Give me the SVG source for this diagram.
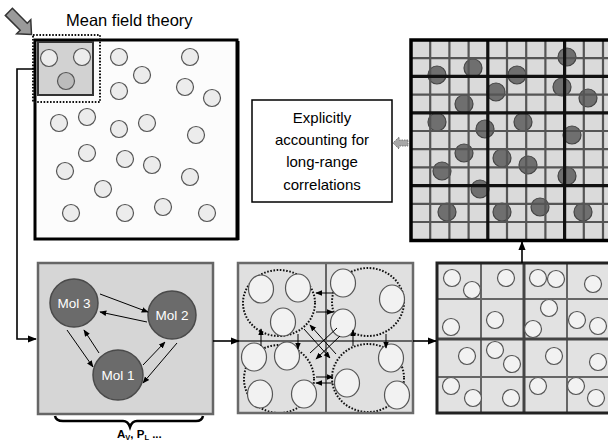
<svg xmlns="http://www.w3.org/2000/svg" width="608" height="442" viewBox="0 0 608 442">
<defs>
<style>
.lc{fill:#ececec;stroke:#555;stroke-width:1.2}
.dc{fill:#6f6f6f;stroke:#444;stroke-width:1.2}
.we{fill:#f2f2f2;stroke:#555;stroke-width:1.2}
.mol{fill:#6b6b6b;stroke:#4a4a4a;stroke-width:1.5}
.molt{font-family:"Liberation Sans",Arial,sans-serif;font-size:13.5px;fill:#fff;text-anchor:middle}
.ln{stroke:#000;stroke-width:1;fill:none}
.cn{stroke:#000;stroke-width:1.6;fill:none}
.dot{fill:none;stroke:#111;stroke-width:2;stroke-dasharray:1.6 1.6}
.g1{stroke:#555;stroke-width:2.2;fill:none}
.g2{stroke:#111;stroke-width:3.2;fill:none}
.q{stroke:#666;stroke-width:2;fill:none}
</style>
<marker id="ah" viewBox="0 0 10 10" refX="9" refY="5" markerWidth="7" markerHeight="7" orient="auto-start-reverse" markerUnits="userSpaceOnUse">
<path d="M0,1 L10,5 L0,9 z" fill="#000"/>
</marker>
<marker id="ah2" viewBox="0 0 10 10" refX="9" refY="5" markerWidth="9" markerHeight="9" orient="auto" markerUnits="userSpaceOnUse">
<path d="M0,1 L10,5 L0,9 z" fill="#000"/>
</marker>
</defs>
<rect width="608" height="442" fill="#fff"/>

<g id="title">
<polygon points="-20,-5 1,-5 1,-10 12,0 1,10 1,5 -20,5" transform="translate(23,26) rotate(45)" fill="#9a9a9a" stroke="#333" stroke-width="1.5"/>
<text x="66" y="26" font-family="Liberation Sans,Arial,sans-serif" font-size="16.5" fill="#000">Mean field theory</text>
</g>

<g id="mean-field-box">
<rect x="35" y="40" width="202" height="199" fill="#fcfcfc" stroke="#000" stroke-width="3"/>
<line x1="238.5" y1="41" x2="238.5" y2="240" stroke="#000" stroke-width="2"/>
<rect x="38" y="42" width="55" height="53" fill="#d2d2d2" stroke="#333" stroke-width="2"/>
<rect x="33" y="35" width="67" height="67" class="dot"/>
<circle cx="49" cy="58" r="8.5" class="lc"/>
<circle cx="82" cy="57" r="8.5" class="lc"/>
<circle cx="66" cy="81" r="8.5" fill="#bcbcbc" stroke="#555" stroke-width="1.2"/>
<circle cx="119" cy="57" r="8.5" class="lc"/>
<circle cx="190" cy="57" r="8.5" class="lc"/>
<circle cx="142" cy="75" r="8.5" class="lc"/>
<circle cx="119" cy="91" r="8.5" class="lc"/>
<circle cx="185" cy="87" r="8.5" class="lc"/>
<circle cx="212" cy="98" r="8.5" class="lc"/>
<circle cx="59" cy="123" r="8.5" class="lc"/>
<circle cx="87" cy="117" r="8.5" class="lc"/>
<circle cx="119" cy="129" r="8.5" class="lc"/>
<circle cx="147" cy="123" r="8.5" class="lc"/>
<circle cx="196" cy="135" r="8.5" class="lc"/>
<circle cx="87" cy="153" r="8.5" class="lc"/>
<circle cx="125" cy="159" r="8.5" class="lc"/>
<circle cx="152" cy="165" r="8.5" class="lc"/>
<circle cx="65" cy="171" r="8.5" class="lc"/>
<circle cx="190" cy="177" r="8.5" class="lc"/>
<circle cx="103" cy="189" r="8.5" class="lc"/>
<circle cx="71" cy="213" r="8.5" class="lc"/>
<circle cx="125" cy="213" r="8.5" class="lc"/>
<circle cx="163" cy="207" r="8.5" class="lc"/>
<circle cx="207" cy="213" r="8.5" class="lc"/>
</g>

<g id="explicit-box">
<rect x="252" y="100" width="140" height="102" fill="#fff" stroke="#000" stroke-width="1.5"/>
<g font-family="Liberation Sans,Arial,sans-serif" font-size="15" fill="#000" text-anchor="middle">
<text x="322" y="123">Explicitly</text>
<text x="322" y="145">accounting for</text>
<text x="322" y="167">long-range</text>
<text x="322" y="190">correlations</text>
</g>
</g>

<g id="fine-grid">
<rect x="411" y="40" width="200" height="200" fill="#dadada"/>
<circle cx="567" cy="57" r="9" class="dc"/>
<circle cx="437" cy="75" r="9" class="dc"/>
<circle cx="473" cy="68" r="9" class="dc"/>
<circle cx="517" cy="75" r="9" class="dc"/>
<circle cx="496" cy="92" r="9" class="dc"/>
<circle cx="562" cy="87" r="9" class="dc"/>
<circle cx="588" cy="98" r="9" class="dc"/>
<circle cx="464" cy="104" r="9" class="dc"/>
<circle cx="437" cy="122" r="9" class="dc"/>
<circle cx="485" cy="129" r="9" class="dc"/>
<circle cx="523" cy="122" r="9" class="dc"/>
<circle cx="572" cy="135" r="9" class="dc"/>
<circle cx="464" cy="153" r="9" class="dc"/>
<circle cx="502" cy="158" r="9" class="dc"/>
<circle cx="528" cy="165" r="9" class="dc"/>
<circle cx="442" cy="171" r="9" class="dc"/>
<circle cx="567" cy="176" r="9" class="dc"/>
<circle cx="480" cy="189" r="9" class="dc"/>
<circle cx="447" cy="212" r="9" class="dc"/>
<circle cx="502" cy="212" r="9" class="dc"/>
<circle cx="540" cy="207" r="9" class="dc"/>
<circle cx="583" cy="212" r="9" class="dc"/>
<path class="g1" d="M430.2,40V240M449.4,40V240M468.6,40V240M507,40V240M526.2,40V240M545.4,40V240M583.8,40V240M603,40V240M411,58.2H608M411,94.6H608M411,131H608M411,149.2H608M411,167.4H608M411,203.8H608M411,222H608"/>
<path class="g2" d="M487.8,40V240M564.6,40V240M411,76.4H608M411,112.8H608M411,185.6H608"/>
<path d="M608,40H411V240.5H608" fill="none" stroke="#000" stroke-width="3.5"/>
</g>

<g id="molecules-box">
<rect x="38" y="263" width="175" height="151" fill="#d6d6d6" stroke="#666" stroke-width="2.5"/>
<circle cx="74" cy="303" r="24" class="mol"/>
<circle cx="172" cy="315" r="24" class="mol"/>
<circle cx="118" cy="375" r="25" class="mol"/>
<text x="74" y="308" class="molt">Mol 3</text>
<text x="172" y="320" class="molt">Mol 2</text>
<text x="118" y="380" class="molt">Mol 1</text>
<g class="ln">
<line x1="100" y1="294" x2="148" y2="312" marker-end="url(#ah)"/>
<line x1="147" y1="322" x2="100" y2="312" marker-end="url(#ah)"/>
<line x1="67" y1="330" x2="93" y2="367" marker-end="url(#ah)"/>
<line x1="99" y1="353" x2="84" y2="330" marker-end="url(#ah)"/>
<line x1="143" y1="365" x2="165" y2="342" marker-end="url(#ah)"/>
<line x1="177" y1="343" x2="143" y2="383" marker-end="url(#ah)"/>
</g>
<path d="M55,416 Q56,421 63,421 L123,421 Q128,421 130,427 Q132,421 137,421 L196,421 Q202,421 203,416" fill="none" stroke="#000" stroke-width="2.5"/>
<text x="117" y="438" font-family="Liberation Sans,Arial,sans-serif" font-size="11.5" font-weight="bold" fill="#000">A<tspan font-size="7.5" dy="1.5">V</tspan><tspan dy="-1.5">, P</tspan><tspan font-size="7.5" dy="1.5">L</tspan><tspan dy="-1.5"> ...</tspan></text>
</g>

<g id="cluster-box">
<rect x="238" y="263" width="175" height="150" fill="#e0e0e0"/>
<ellipse cx="279" cy="303" rx="36" ry="33" class="dot"/>
<ellipse cx="368" cy="302" rx="36" ry="34" class="dot"/>
<ellipse cx="279" cy="379" rx="35" ry="34" class="dot"/>
<ellipse cx="368" cy="378" rx="36" ry="34" class="dot"/>
<path class="q" d="M326,263V413M238,341H413"/>
<rect x="238" y="263" width="175" height="150" fill="none" stroke="#6a6a6a" stroke-width="2.5"/>
<ellipse cx="261" cy="289" rx="12.5" ry="14" class="we"/>
<ellipse cx="298" cy="288" rx="12.5" ry="14" class="we"/>
<ellipse cx="283" cy="322" rx="12.5" ry="14" class="we"/>
<ellipse cx="343" cy="283" rx="12.5" ry="14" class="we"/>
<ellipse cx="392" cy="299" rx="12.5" ry="14" class="we"/>
<ellipse cx="343" cy="323" rx="12.5" ry="14" class="we"/>
<ellipse cx="254" cy="357" rx="12.5" ry="14" class="we"/>
<ellipse cx="287" cy="356" rx="12.5" ry="14" class="we"/>
<ellipse cx="260" cy="394" rx="12.5" ry="14" class="we"/>
<ellipse cx="304" cy="394" rx="12.5" ry="14" class="we"/>
<ellipse cx="391" cy="358" rx="12.5" ry="14" class="we"/>
<ellipse cx="347" cy="383" rx="12.5" ry="14" class="we"/>
<ellipse cx="397" cy="395" rx="12.5" ry="14" class="we"/>
<g class="ln">
<line x1="333" y1="293" x2="316" y2="293" marker-end="url(#ah)"/>
<line x1="316" y1="312" x2="333" y2="312" marker-end="url(#ah)"/>
<line x1="316" y1="377" x2="333" y2="377" marker-end="url(#ah)"/>
<line x1="333" y1="383" x2="316" y2="383" marker-end="url(#ah)"/>
<line x1="261" y1="346" x2="261" y2="329" marker-end="url(#ah)"/>
<line x1="298" y1="334" x2="298" y2="349" marker-end="url(#ah)"/>
<line x1="353" y1="346" x2="353" y2="330" marker-end="url(#ah)"/>
<line x1="386" y1="334" x2="386" y2="348" marker-end="url(#ah)"/>
<line x1="304" y1="329" x2="330" y2="358" marker-end="url(#ah)"/>
<line x1="336" y1="354" x2="310" y2="325" marker-end="url(#ah)"/>
<line x1="340" y1="336" x2="316" y2="359" marker-end="url(#ah)"/>
<line x1="310" y1="353" x2="337" y2="328"/>
</g>
</g>

<g id="cell-box">
<rect x="437" y="263" width="180" height="150" fill="#e2e2e2"/>
<path class="q" d="M481,263V413M567,263V413M437,299H608M437,377H608"/>
<path d="M524,263V413M437,339H608" stroke="#444" stroke-width="3" fill="none"/>
<path d="M608,263H437V413H608" fill="none" stroke="#222" stroke-width="3"/>
<circle cx="452" cy="278" r="8.5" class="we"/>
<circle cx="472" cy="290" r="8.5" class="we"/>
<circle cx="506" cy="278" r="8.5" class="we"/>
<circle cx="538" cy="278" r="8.5" class="we"/>
<circle cx="556" cy="279" r="8.5" class="we"/>
<circle cx="593" cy="284" r="8.5" class="we"/>
<circle cx="451" cy="327" r="8.5" class="we"/>
<circle cx="495" cy="320" r="8.5" class="we"/>
<circle cx="549" cy="308" r="8.5" class="we"/>
<circle cx="533" cy="329" r="8.5" class="we"/>
<circle cx="577" cy="320" r="8.5" class="we"/>
<circle cx="598" cy="326" r="8.5" class="we"/>
<circle cx="467" cy="356" r="8.5" class="we"/>
<circle cx="495" cy="350" r="8.5" class="we"/>
<circle cx="512" cy="364" r="8.5" class="we"/>
<circle cx="554" cy="356" r="8.5" class="we"/>
<circle cx="598" cy="362" r="8.5" class="we"/>
<circle cx="451" cy="386" r="8.5" class="we"/>
<circle cx="473" cy="398" r="8.5" class="we"/>
<circle cx="511" cy="398" r="8.5" class="we"/>
<circle cx="538" cy="386" r="8.5" class="we"/>
<circle cx="576" cy="386" r="8.5" class="we"/>
<circle cx="596" cy="398" r="8.5" class="we"/>
</g>

<g id="connectors">
<path class="cn" d="M34,69H17V339H36" marker-end="url(#ah2)"/>
<line x1="213" y1="341" x2="239" y2="341" class="cn" marker-end="url(#ah2)"/>
<line x1="413" y1="341" x2="436" y2="341" class="cn" marker-end="url(#ah2)"/>
<line x1="522" y1="263" x2="522" y2="242" class="cn" marker-end="url(#ah2)"/>
<polygon points="408,140 399,140 399,137 393,143 399,149 399,146 408,146" fill="#a8a8a8" stroke="#666" stroke-width="0.8" stroke-dasharray="1.5 1"/>
</g>
</svg>
